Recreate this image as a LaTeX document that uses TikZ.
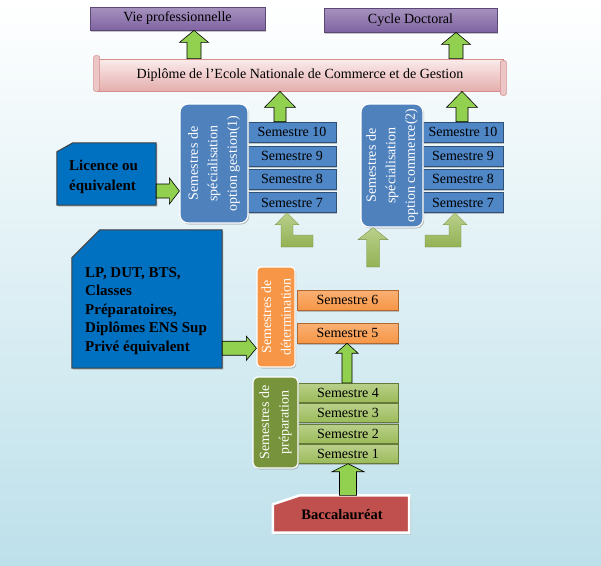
\documentclass[tikz,border=0pt]{standalone}
\usepackage{fontspec}
\setmainfont{Liberation Serif}
\usetikzlibrary{calc,shadows}
\definecolor{bgblue}{HTML}{BDE0EA}
\definecolor{purp}{HTML}{8064A2}
\definecolor{purpdk}{HTML}{5C4776}
\definecolor{bantop}{HTML}{FBECEC}
\definecolor{banbot}{HTML}{E4AEAD}
\definecolor{bandraw}{HTML}{D48E8C}
\definecolor{semblue}{HTML}{4F86C6}
\definecolor{specblue}{HTML}{4F81BD}
\definecolor{orng}{HTML}{F79646}
\definecolor{olive}{HTML}{77933C}
\definecolor{lgreen}{HTML}{9BBB59}
\definecolor{agreen}{HTML}{92D050}
\definecolor{dkblue}{HTML}{0070C0}
\definecolor{baccred}{HTML}{C0504D}

% vertical block arrow: x and bottom from #2, tip height from #3
\newcommand\blockup[6]{\path[#1] let \p1=(#2), \p2=(#3) in
  (\x1-#4,\y1) -- (\x1-#4,\y2-#6) -- (\x1-#5,\y2-#6) -- (\x1,\y2)
  -- (\x1+#5,\y2-#6) -- (\x1+#4,\y2-#6) -- (\x1+#4,\y1) -- cycle;}
% horizontal block arrow to the right
\newcommand\blockright[6]{\path[#1] let \p1=(#2), \p2=(#3) in
  (\x1,\y1+#4) -- (\x2-#6,\y1+#4) -- (\x2-#6,\y1+#5) -- (\x2,\y1)
  -- (\x2-#6,\y1-#5) -- (\x2-#6,\y1-#4) -- (\x1,\y1-#4) -- cycle;}
% L-shaped block arrow: horizontal bar from #2, then up to tip #3
\newcommand\blockL[8]{\path[#1] let \p1=(#2), \p2=(#3) in
  (\x1,\y1+#4) -- (\x2#7#4,\y1+#4) -- (\x2#7#4,\y2-#6) -- (\x2#7#5,\y2-#6) -- (\x2,\y2)
  -- (\x2#8#5,\y2-#6) -- (\x2#8#4,\y2-#6) -- (\x2#8#4,\y1-#4) -- (\x1,\y1-#4) -- cycle;}

\begin{document}
\begin{tikzpicture}[x=1pt,y=-1pt,
  txt/.style={font=\fontsize{14}{16}\selectfont},
  shd/.style={drop shadow={shadow xshift=1.2pt,shadow yshift=-1.5pt,fill=black!45}},
  purpbox/.style={draw=purpdk,line width=0.8pt,top color=purp!70!white,bottom color=purp,
    inner sep=0pt,txt,shd},
  banner/.style={draw=bandraw,line width=0.8pt,top color=bantop,bottom color=banbot,
    inner sep=0pt,txt,minimum width=406pt,minimum height=32pt},
  banend/.style={draw=bandraw,line width=0.6pt,fill=banbot!70!white,rounded corners=2pt},
  semb/.style={fill=semblue,draw=semblue!60!black,line width=0.5pt,inner sep=0pt,
    minimum height=20pt,txt,shd},
  semo/.style={top color=orng!75!white,bottom color=orng,draw=orng!70!black,line width=0.4pt,
    inner sep=0pt,minimum height=20pt,txt,shd},
  semg/.style={top color=lgreen!70!white,bottom color=lgreen,draw=lgreen!65!black,line width=0.4pt,
    inner sep=0pt,minimum height=19pt,txt,shd},
  vbox/.style={draw=white,line width=1.2pt,inner sep=0pt,rotate=90,align=center,
    text=white,font=\fontsize{14}{19.5}\selectfont},
  garrow/.style={fill=agreen,draw=black,line width=0.6pt,line join=miter},
  larrow/.style={top color=lgreen!70!white,bottom color=lgreen!95!black,draw=lgreen!75!black,line width=0.3pt},
  dkbox/.style={fill=dkblue,draw=black!75,line width=1pt,shd},
  boldtxt/.style={font=\bfseries\fontsize{15}{20}\selectfont,align=left,inner sep=0pt},
  baccbox/.style={fill=baccred,draw=white,line width=2.5pt,
    drop shadow={shadow xshift=2pt,shadow yshift=-2pt,fill=black!35}}
]
\useasboundingbox (0,0) rectangle (601,565);
\fill[top color=white,bottom color=bgblue] (0,0) rectangle (601,565);

% top outcomes
\node[purpbox,minimum width=175pt,minimum height=23pt] (vie) at (177.5,18.5) {Vie professionnelle};
\node[purpbox,minimum width=173pt,minimum height=24pt] (cyc) at (410.5,20) {Cycle Doctoral};

% diploma scroll
\node[banner] (banner) at (300,75) {Diplôme de l’Ecole Nationale de Commerce et de Gestion};
\draw[banend] ($(banner.north west)+(-3,-3)$) rectangle ($(banner.south west)+(3,0)$);
\draw[banend] ($(banner.north east)+(-3,2)$) rectangle ($(banner.south east)+(3,4)$);

% specialisation semesters
\node[semb,minimum width=88pt] (g10) at (292,132) {Semestre 10};
\node[semb,minimum width=88pt] (g9) at (292,156) {Semestre 9};
\node[semb,minimum width=88pt] (g8) at (292,179) {Semestre 8};
\node[semb,minimum width=88pt] (g7) at (292,202.5) {Semestre 7};
\node[semb,minimum width=80pt] (r10) at (463,132) {Semestre 10};
\node[semb,minimum width=80pt] (r9) at (463,156) {Semestre 9};
\node[semb,minimum width=80pt] (r8) at (463,179) {Semestre 8};
\node[semb,minimum width=80pt] (r7) at (463,202.5) {Semestre 7};
\node[vbox,fill=specblue,rounded corners=8pt,minimum width=119pt,minimum height=68pt,shd]
  (sp1) at (214,163.5) {Semestres de\\spécialisation\\option gestion(1)};
\node[vbox,fill=specblue,rounded corners=8pt,minimum width=123pt,minimum height=62pt,shd]
  (sp2) at (392,165.5) {Semestres de\\spécialisation\\option commerce(2)};

% entry boxes
\node[inner sep=0pt,minimum width=99pt,minimum height=62pt] (lic) at (106.5,174) {};
\path[dkbox] (lic.south west) -- ([yshift=-9pt]lic.north west) -- ([xshift=16pt]lic.north west)
  -- (lic.north east) -- (lic.south east) -- cycle;
\node[boldtxt,anchor=west] (lictxt) at (69,177) {Licence ou\\équivalent};

\node[inner sep=0pt,minimum width=150pt,minimum height=138pt] (lp) at (147,299) {};
\path[dkbox] (lp.south west) -- ([yshift=-28pt]lp.north west) -- ([xshift=28pt]lp.north west)
  -- (lp.north east) -- (lp.south east) -- cycle;
\node[boldtxt,anchor=west,font=\bfseries\fontsize{15}{18.5}\selectfont] (lptxt) at (85,311)
  {LP, DUT, BTS,\\Classes\\Préparatoires,\\Diplômes ENS Sup\\Privé équivalent};

% determination semesters
\node[semo,minimum width=101pt] (s6) at (347.5,300) {Semestre 6};
\node[semo,minimum width=101pt] (s5) at (347.5,333) {Semestre 5};
\node[vbox,fill=orng,rounded corners=4pt,minimum width=100pt,minimum height=38pt,shd]
  (det) at (276,317) {Semestres de\\détermination};

% preparation semesters
\node[semg,minimum width=100pt] (s4) at (348,392.5) {Semestre 4};
\node[semg,minimum width=100pt] (s3) at (348,413) {Semestre 3};
\node[semg,minimum width=100pt] (s2) at (348,433.5) {Semestre 2};
\node[semg,minimum width=100pt] (s1) at (348,454) {Semestre 1};
\node[vbox,fill=olive,rounded corners=5pt,minimum width=91pt,minimum height=45pt,shd]
  (prep) at (275.5,422.5) {Semestres de\\préparation};

% baccalaureat
\node[inner sep=0pt,minimum width=136pt,minimum height=37pt] (bacc) at (341,514) {};
\path[baccbox] (bacc.south west) -- ([yshift=-9pt]bacc.north west) -- ([xshift=27pt]bacc.north west)
  -- (bacc.north east) -- (bacc.south east) -- cycle;
\node[font=\bfseries\fontsize{14.5}{17}\selectfont,inner sep=0pt] (bacctxt) at (342,515) {Baccalauréat};

% block arrows
\blockup{garrow}{$(banner.north)+(-106,0)$}{vie.south}{7pt}{14.5pt}{12pt}
\blockup{garrow}{$(banner.north)+(156,0)$}{cyc.south}{7pt}{14.5pt}{12pt}
\blockup{garrow}{$(g10.north)+(-12,0)$}{banner.south}{6pt}{15.5pt}{16pt}
\blockup{garrow}{$(r10.north)+(-1,0)$}{banner.south}{6pt}{15.5pt}{16pt}
\blockright{garrow}{$(lic.east)+(0,17)$}{sp1.north}{7pt}{13pt}{10pt}
\blockright{garrow}{$(lp.south east)+(0,-20)$}{det.north}{7pt}{12pt}{10pt}
\blockup{garrow}{$(s4.north)+(-1,0)$}{s5.south}{5pt}{11pt}{10pt}
\blockup{garrow}{$(bacc.north)+(7,0)$}{s1.south}{8.5pt}{16pt}{8pt}

\coordinate (lfreeL) at (313,241);
\coordinate (lfreeM) at (373,267);
\coordinate (lfreeR) at (425,241);
\blockL{larrow}{lfreeL}{$(g7.south)+(-5,0)$}{6pt}{12pt}{12pt}{+}{-}
\blockup{larrow}{lfreeM}{sp2.west}{6.5pt}{15pt}{12pt}
\blockL{larrow}{lfreeR}{$(r7.south)+(-8,0)$}{6pt}{12pt}{12pt}{-}{+}
\end{tikzpicture}
\end{document}
